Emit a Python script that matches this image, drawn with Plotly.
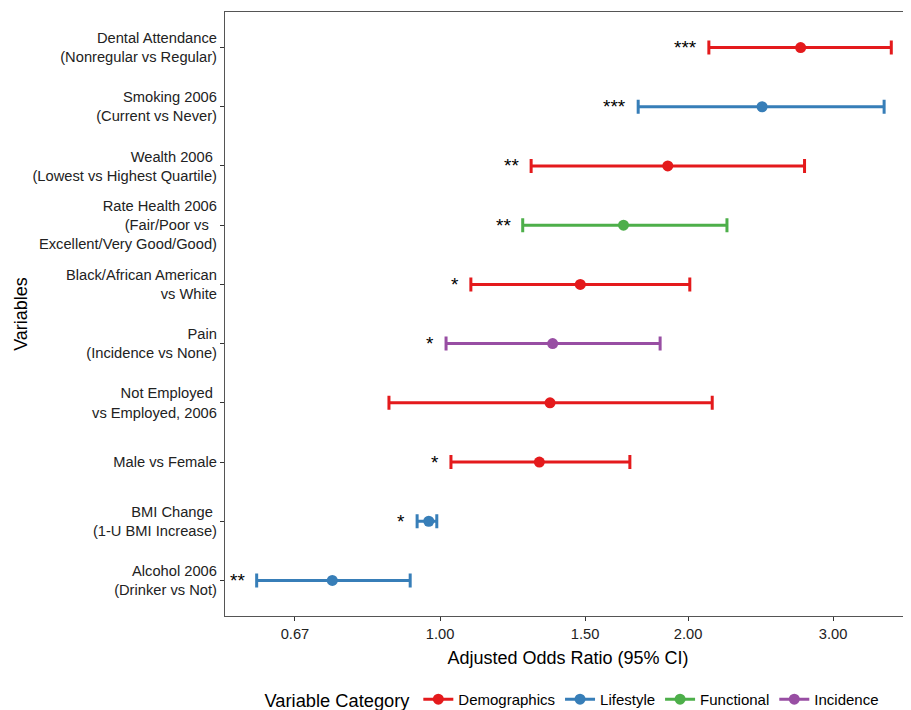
import math
import plotly.graph_objects as go

# ---- data (top row first) ----
labels = [
    "Dental Attendance<br>(Nonregular vs Regular)",
    "Smoking 2006<br>(Current vs Never)",
    "Wealth 2006\u00a0<br>(Lowest vs Highest Quartile)",
    "Rate Health 2006<br>(Fair/Poor vs\u00a0\u00a0<br>Excellent/Very Good/Good)",
    "Black/African American<br>vs White",
    "Pain<br>(Incidence vs None)",
    "Not Employed\u00a0<br>vs Employed, 2006",
    "Male vs Female",
    "BMI Change\u00a0<br>(1-U BMI Increase)",
    "Alcohol 2006<br>(Drinker vs Not)",
]
category = ["Demographics", "Lifestyle", "Demographics", "Functional", "Demographics",
            "Incidence", "Demographics", "Demographics", "Lifestyle", "Lifestyle"]
odds_ratio = [2.74, 2.46, 1.89, 1.67, 1.48, 1.37, 1.36, 1.32, 0.969, 0.740]
ci_low = [2.12, 1.74, 1.29, 1.26, 1.09, 1.017, 0.867, 1.031, 0.938, 0.599]
ci_high = [3.53, 3.46, 2.77, 2.23, 2.01, 1.85, 2.14, 1.70, 0.991, 0.920]
signif = ["***", "***", "**", "**", "*", "*", "", "*", "*", "**"]

legend_order = ["Demographics", "Lifestyle", "Functional", "Incidence"]
colors = {"Demographics": "#E41A1C", "Lifestyle": "#377EB8",
          "Functional": "#4DAF4A", "Incidence": "#984EA3"}

tick_vals = [2/3, 1.0, 1.5, 2.0, 3.0]
tick_text = ["0.67", "1.00", "1.50", "2.00", "3.00"]

FONT = "Liberation Sans, Arial, sans-serif"

fig = go.Figure()

for cat in legend_order:
    idx = [i for i, c in enumerate(category) if c == cat]
    fig.add_trace(go.Scatter(
        x=[odds_ratio[i] for i in idx],
        y=[labels[i] for i in idx],
        mode="markers",
        marker=dict(color=colors[cat], size=11),
        error_x=dict(type="data", symmetric=False,
                     array=[ci_high[i] - odds_ratio[i] for i in idx],
                     arrayminus=[odds_ratio[i] - ci_low[i] for i in idx],
                     color=colors[cat], thickness=3, width=7),
        showlegend=False, hoverinfo="skip"))

for cat in legend_order:
    fig.add_trace(go.Scatter(
        x=[None], y=[None], mode="lines+markers", name=cat,
        line=dict(color=colors[cat], width=3),
        marker=dict(color=colors[cat], size=11)))

for i, s in enumerate(signif):
    if s:
        fig.add_annotation(x=math.log10(ci_low[i]), y=labels[i], text=s,
                           showarrow=False, xanchor="right", yanchor="middle",
                           xshift=-10, font=dict(size=19, color="black", family=FONT))

fig.add_shape(type="line", xref="x", yref="paper", x0=0, x1=0, y0=0, y1=1,
              line=dict(color="black", width=2))

lo_r = math.log10(math.exp(-0.601))
hi_r = math.log10(math.exp(1.3164))

fig.update_layout(
    width=903, height=702,
    margin=dict(l=217, r=0, t=3.5, b=94, autoexpand=False),
    paper_bgcolor="white", plot_bgcolor="white",
    font=dict(family=FONT, color="black"),
    xaxis=dict(type="log", range=[lo_r, hi_r], tickmode="array",
               tickvals=tick_vals, ticktext=tick_text,
               showgrid=False, zeroline=False,
               showline=True, linecolor="#555555", linewidth=1.2, mirror=True,
               ticks="outside", ticklen=4, tickcolor="#333333",
               tickfont=dict(size=14.7, color="#222222"),
               title=dict(text="Adjusted Odds Ratio (95% CI)", font=dict(size=18), standoff=10)),
    yaxis=dict(type="category", categoryorder="array", categoryarray=labels[::-1],
               range=[-0.6, 9.6], showgrid=False, zeroline=False,
               showline=True, linecolor="#555555", linewidth=1.2, mirror=False,
               ticks="outside", ticklen=4, tickcolor="#333333",
               tickfont=dict(size=14.7, color="#222222"),
               title=dict(text="Variables", font=dict(size=18), standoff=0)),
    legend=dict(orientation="h", x=0.508, xanchor="center", y=-0.139, yanchor="middle",
                title=dict(text="Variable Category", font=dict(size=18.3)),
                font=dict(size=15), itemwidth=30),
)

fig.write_html("out.html")
